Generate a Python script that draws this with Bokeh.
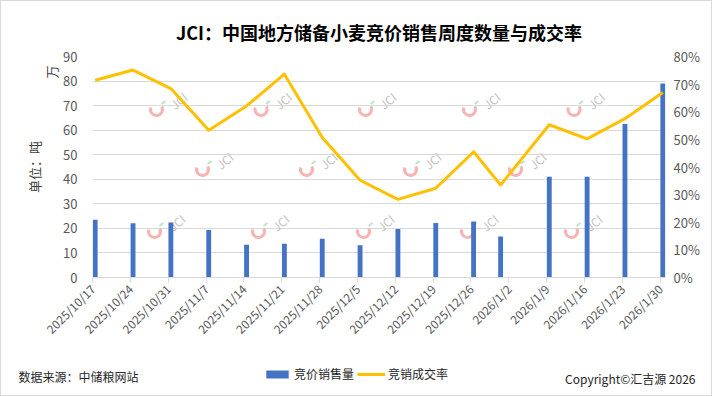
import math
import datetime as dt
from bokeh.plotting import figure
from bokeh.layouts import column
from bokeh.models import (Range1d, LinearAxis, FixedTicker, PrintfTickFormatter, Label,
                          Legend, LegendItem, ColumnDataSource, Title)
from bokeh.embed import file_html
from bokeh.resources import INLINE

# ---------------- data ----------------
dates = ["2025-10-17", "2025-10-24", "2025-10-31", "2025-11-07", "2025-11-14", "2025-11-21",
         "2025-11-28", "2025-12-05", "2025-12-12", "2025-12-19", "2025-12-26", "2025-12-31",
         "2026-01-09", "2026-01-16", "2026-01-23", "2026-01-30"]
volume = [23.5, 22.1, 22.4, 19.3, 13.3, 13.7, 15.8, 13.1, 19.8, 22.2, 22.8, 16.7,
          41.0, 41.0, 62.5, 79.0]          # 万吨
rate = [71.4, 75.1, 68.4, 53.3, 62.1, 73.6, 50.7, 35.2, 28.3, 32.3, 45.5, 33.5,
        55.3, 50.2, 57.5, 67.0]            # %
tick_labels = ["2025/10/17", "2025/10/24", "2025/10/31", "2025/11/7", "2025/11/14",
               "2025/11/21", "2025/11/28", "2025/12/5", "2025/12/12", "2025/12/19",
               "2025/12/26", "2026/1/2", "2026/1/9", "2026/1/16", "2026/1/23", "2026/1/30"]
left_ticks = [0, 10, 20, 30, 40, 50, 60, 70, 80, 90]
right_ticks = [0, 10, 20, 30, 40, 50, 60, 70, 80]
series_names = ["竞价销售量", "竞销成交率"]

TITLE = "JCI：中国地方储备小麦竞价销售周度数量与成交率"
SOURCE = "数据来源：中储粮网站"
COPYRIGHT = "Copyright©汇吉源 2026"
FONT = "Noto Sans CJK SC"
BAR_COLOR = "#4472C4"
LINE_COLOR = "#FFC000"

# ---------------- geometry helpers ----------------
base = dt.date(2025, 10, 17)
def day_of(s, sep):
    y, m, d = (int(v) for v in s.split(sep))
    return (dt.date(y, m, d) - base).days

xd = [day_of(s, "-") + 0.5 for s in dates]
tick_days = [day_of(s, "/") for s in tick_labels]
X_MAX = tick_days[-1] + 1

W = 712
H_MAIN, H_FOOT = 360, 36
FR_L, FR_R, FR_T, FR_B = 92, 665, 56, 277   # plot frame in page px
def dx(px):
    return (px - FR_L) * X_MAX / (FR_R - FR_L)
def dy(py):
    return (FR_B - py) * 90 / (FR_B - FR_T)

src = ColumnDataSource(dict(x=xd, vol=volume, rate=rate))

p = figure(width=W, height=H_MAIN, output_backend="svg", toolbar_location=None,
           x_range=Range1d(0, X_MAX), y_range=Range1d(0, 90),
           min_border_left=FR_L, min_border_right=W - FR_R, min_border_top=FR_T,
           min_border_bottom=H_MAIN - FR_B)
p.extra_y_ranges = {"rate": Range1d(0, 80)}
p.outline_line_color = None
p.background_fill_color = "white"
p.border_fill_alpha = 0

# title
p.title.text = TITLE
p.title.align = "center"
p.title.text_font = FONT
p.title.text_font_size = "18px"
p.title.text_font_style = "bold"
p.title.text_color = "#000000"
p.title.standoff = 23

# watermarks (decoration inside the plot area)
rows = [(100, [178, 282.5, 387, 491, 595.5]), (160, [224, 328, 432, 537]),
        (222, [176, 280, 385, 489, 593])]
wx, wy, hx, hy, gx, gy = [], [], [], [], [], []
for cy, xs in rows:
    for cx in xs:
        wx.append(dx(cx)); wy.append(dy(cy))
        hx.append(dx(cx - 22)); hy.append(dy(cy + 9))
        gx.append(dx(cx - 15)); gy.append(dy(cy + 2))
p.arc(x=hx, y=hy, radius=6, radius_units="screen", start_angle=math.radians(160),
      end_angle=math.radians(30), direction="anticlock", line_color="#F8B4B4", line_width=3)
p.scatter(x=gx, y=gy, marker="dash", size=5, angle=math.radians(40), line_color="#BFE3C8",
          line_width=2)
p.text(x=wx, y=wy, text=["JCI"] * len(wx), angle=math.radians(40), text_color="#C4C4C4",
       text_font_size="12px", text_align="center", text_baseline="middle",
       text_font={"value": FONT})

bars = p.vbar(x="x", top="vol", width=0.9, source=src, fill_color=BAR_COLOR, line_color=None)
line = p.line(x="x", y="rate", source=src, y_range_name="rate", line_color=LINE_COLOR,
              line_width=3, line_join="round")

# grid
p.xgrid.visible = False
p.ygrid.ticker = FixedTicker(ticks=left_ticks)
p.ygrid.grid_line_color = "#D9D9D9"

# x axis
xa = p.xaxis[0]
xa.ticker = FixedTicker(ticks=tick_days)
xa.major_label_overrides = {d: t for d, t in zip(tick_days, tick_labels)}
xa.major_label_orientation = math.pi / 4
xa.axis_line_color = "#D9D9D9"
xa.major_tick_line_color = "#D9D9D9"
xa.major_tick_out = 5
xa.major_tick_in = 0
xa.minor_tick_line_color = None
xa.major_label_text_font = FONT
xa.major_label_text_font_size = "12px"
xa.major_label_text_color = "#595959"
xa.major_label_standoff = 4

# left axis
ya = p.yaxis[0]
ya.ticker = FixedTicker(ticks=left_ticks)
ya.axis_line_color = None
ya.major_tick_line_color = None
ya.minor_tick_line_color = None
ya.major_label_text_font = FONT
ya.major_label_text_font_size = "13px"
ya.major_label_text_color = "#595959"
ya.major_label_standoff = 9

p.add_layout(Title(text="万", align="right", standoff=0, offset=9, text_font=FONT,
                   text_font_size="13px", text_font_style="normal",
                   text_color="#404040"), "left")
p.add_layout(Title(text="单位：吨", align="center", standoff=-8, text_font=FONT,
                   text_font_size="13px", text_font_style="normal",
                   text_color="#404040"), "left")

# right axis
ra = LinearAxis(y_range_name="rate", ticker=FixedTicker(ticks=right_ticks),
                formatter=PrintfTickFormatter(format="%d%%"))
ra.axis_line_color = None
ra.major_tick_line_color = None
ra.minor_tick_line_color = None
ra.major_label_text_font = FONT
ra.major_label_text_font_size = "13px"
ra.major_label_text_color = "#595959"
ra.major_label_standoff = 2
p.add_layout(ra, "right")

# ---------------- footer: legend + source + copyright ----------------
f = figure(width=W, height=H_FOOT, output_backend="svg", toolbar_location=None,
           x_range=Range1d(0, W), y_range=Range1d(0, H_FOOT),
           x_axis_type=None, y_axis_type=None, min_border=0)
f.outline_line_color = None
f.grid.visible = False
f.background_fill_alpha = 0
f.border_fill_alpha = 0
for fig in (p, f):
    if "frame_align" in fig.properties():
        fig.frame_align = False

def fy(py):
    return H_MAIN + H_FOOT - py

# legend proxies share the chart's data but are hidden in the footer
lb = f.vbar(x="x", top="vol", width=0.9, source=src, fill_color=BAR_COLOR, line_color=None,
            visible=False)
ll = f.line(x="x", y="rate", source=src, line_color=LINE_COLOR, line_width=3, visible=False)
legend = Legend(items=[LegendItem(label=series_names[0], renderers=[lb]),
                       LegendItem(label=series_names[1], renderers=[ll])],
                orientation="horizontal", location=(263, fy(382)),
                glyph_width=28, glyph_height=10, label_standoff=3, spacing=3,
                padding=0, margin=0, border_line_color=None, background_fill_alpha=0,
                inactive_fill_alpha=0,
                label_text_font=FONT, label_text_font_size="12px",
                label_text_color="#262626", label_height=12)
f.add_layout(legend)

f.add_layout(Label(x=18, y=fy(376), text=SOURCE, text_font=FONT,
                   text_font_size="12px", text_color="#262626", text_align="left",
                   text_baseline="middle"))
f.add_layout(Label(x=695, y=fy(378), text=COPYRIGHT, text_font=FONT,
                   text_font_size="12px", text_color="#262626", text_align="right",
                   text_baseline="middle"))

layout = column(p, f, spacing=0,
                styles={"background-color": "white",
                        "box-shadow": "inset 0 0 0 1px #D9D9D9"})
open("out.html", "w").write(file_html(layout, INLINE))
